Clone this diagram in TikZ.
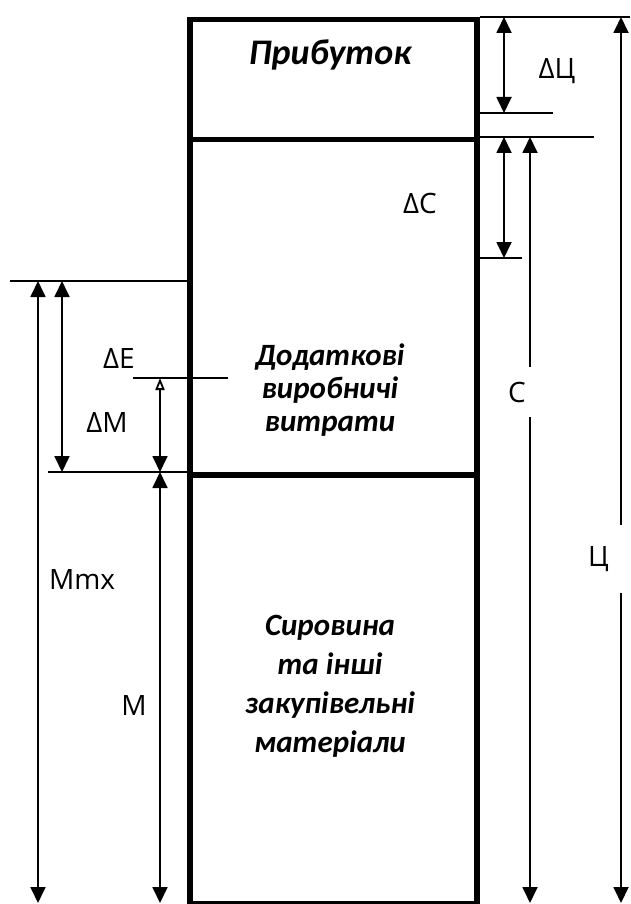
\documentclass[tikz,border=0pt]{standalone}
\usepackage{fontspec}
\setmainfont{Carlito}
\newfontfamily\labelfont{Open Sans}
\usetikzlibrary{arrows.meta,positioning,calc}

\begin{document}
\begin{tikzpicture}[x=1pt, y=-1pt,
        part/.style={draw, line width=5.5pt, minimum width=287pt, anchor=north west, inner sep=0pt},
        ext/.style={line width=1.8pt},
        dim/.style={{Triangle[length=16pt,width=15pt]}-{Triangle[length=16pt,width=15pt]}, line width=1.8pt},
        dimsmall/.style={{Triangle[open,length=12pt,width=9pt]}-{Triangle[length=16pt,width=15pt]}, line width=1.8pt},
        title/.style={font=\fontsize{36}{40}\selectfont\bfseries\itshape, align=center},
        body/.style={font=\fontsize{31}{33}\selectfont\bfseries\itshape, align=center},
        lbl/.style={font=\labelfont\fontsize{28}{32}\selectfont, inner sep=1pt},
        gap/.style={fill=white, anchor=east, inner ysep=0pt}
    ]
        \useasboundingbox (0,0) rectangle (630,904);

        % Price column
        \node[part, minimum height=120pt] (profit) at (187,17) {};
        \node[part, minimum height=335pt] (extra) at (187,137) {};
        \node[part, minimum height=429pt] (raw) at (187,472) {};

        % Columns and levels of the dimension lines
        \coordinate (colA) at (504,0);
        \coordinate (colC) at (530,0);
        \coordinate (colP) at (621,0);
        \coordinate (colX) at (38,0);
        \coordinate (colD) at (62,0);
        \coordinate (colM) at (160,0);
        \coordinate (edgeR) at (630,0);
        \coordinate (lvlP) at (0,113);
        \coordinate (lvlC) at (0,258);
        \coordinate (lvlMx) at (0,281);
        \coordinate (lvlE) at (0,378);
        \coordinate (base) at (0,903);

        % Extension lines
        \draw[ext] (profit.north east) -- (profit.north east -| edgeR);
        \draw[ext] (profit.east |- lvlP) -- ++(73,0);
        \draw[ext] (extra.north east) -- ++(114,0);
        \draw[ext] (extra.east |- lvlC) -- ++(42,0);
        \draw[ext] (extra.west |- lvlMx) -- ++(-177,0);
        \draw[ext] (extra.west |- lvlE) ++(-54,0) -- ++(95,0);
        \draw[ext] (raw.north west) -- ++(-139,0);

        % Dimension arrows
        \draw[dim] (colA |- profit.north) -- (colA |- lvlP);
        \draw[dim] (colA |- extra.north) -- (colA |- lvlC);
        \draw[dim] (colC |- extra.north) -- (colC |- base);
        \draw[dim] (colP |- profit.north) -- (colP |- base);
        \draw[dim] (colX |- lvlMx) -- (colX |- base);
        \draw[dim] (colD |- lvlMx) -- (colD |- raw.north);
        \draw[dimsmall] (colM |- lvlE) -- (colM |- raw.north);
        \draw[dim] (colM |- raw.north) -- (colM |- base);

        % Labels
        \node[lbl] (lblDP) at (557,71) {ΔЦ};
        \node[lbl] (lblDC) at (420,203) {ΔС};
        \node[lbl] (lblDE) at (119,359) {ΔЕ};
        \node[lbl] (lblDM) at (107,423) {ΔМ};
        \node[lbl] (lblMx) at (82,579) {Mmx};
        \node[lbl] (lblM) at (134,705) {М};
        \node[lbl, gap, minimum height=50pt, inner xsep=7pt] (lblC) at (533,392) {С};
        \node[lbl, gap, minimum height=68pt, inner xsep=14pt] (lblP) at (623,559) {Ц};

        % Texts of the parts
        \node[title] (txtProfit) at (330,55) {Прибуток};
        \node[body] (txtExtra) at (330,390) {Додаткові\\виробничі\\витрати};
        \node[body, font=\fontsize{31}{39}\selectfont\bfseries\itshape] (txtRaw) at (330,686) {Сировина\\та інші\\закупівельні\\матеріали};

    \end{tikzpicture}
\end{document}
